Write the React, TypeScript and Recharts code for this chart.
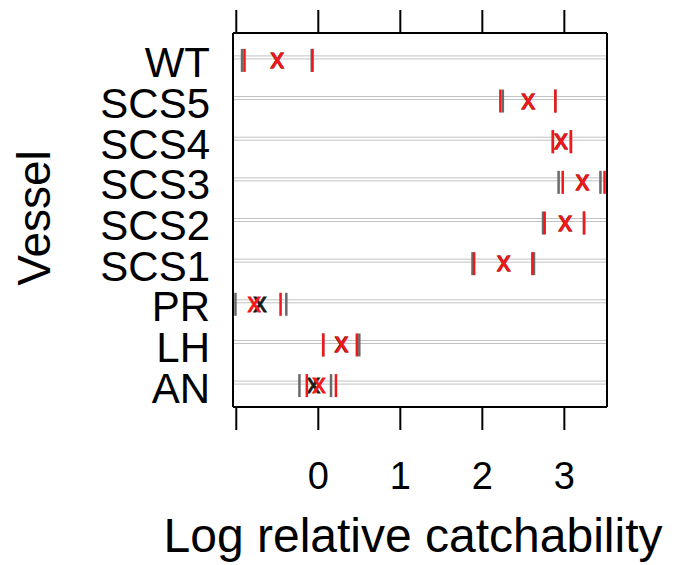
import React from 'react';
import { ScatterChart, Scatter, XAxis, YAxis, ReferenceLine } from 'recharts';

// Vessels, bottom row first
const vessels = ['AN', 'LH', 'PR', 'SCS1', 'SCS2', 'SCS3', 'SCS4', 'SCS5', 'WT'];

// Model 1 (black estimate, grey interval ends)
const estA = [-0.06, 0.28, -0.71, 2.26, 3.01, 3.22, 2.96, 2.56, -0.5];
const lowA = [-0.23, 0.06, -1.01, 1.88, 2.74, 2.93, 2.86, 2.25, -0.93];
const upA = [0.155, 0.5, -0.39, 2.63, 3.24, 3.44, 3.08, 2.89, -0.08];

// Model 2 (red estimate, red interval ends)
const estB = [0.01, 0.285, -0.78, 2.26, 3.01, 3.22, 2.96, 2.56, -0.5];
const lowB = [-0.14, 0.06, -1.15, 1.9, 2.76, 2.98, 2.86, 2.22, -0.9];
const upB = [0.215, 0.47, -0.46, 2.61, 3.24, 3.49, 3.08, 2.89, -0.07];

const xTicks = [-1, 0, 1, 2, 3];
const xTickLabels = ['', '0', '1', '2', '3'];
const xDomain = [-1.04, 3.52];
const yDomain = [0.4, 9.6];

const FONT = '"Liberation Sans", Arial, sans-serif';
const GREY = '#6a6a6a';
const RED = '#f01818';
const BLACK = '#1a1a1a';

const toPts = (vals: number[]) => vals.map((v, i) => ({ x: v, y: i + 1 }));

const barShape = (color: string) => (p: any) => (
  <rect x={p.cx - 1.25} y={p.cy - 8.5} width={2.5} height={23} fill={color} />
);
const crossShape = (color: string) => (p: any) => (
  <text
    x={p.cx}
    y={p.cy + 10.5}
    textAnchor="middle"
    fontSize={27}
    fontFamily={FONT}
    fill={color}
    stroke={color}
    strokeWidth={0.8}
  >
    x
  </text>
);

const rowLine = (p: any) => (
  <g>
    <line x1={p.x1} x2={p.x2} y1={p.y1 - 1.5} y2={p.y2 - 1.5} stroke="#c2c2c2" strokeWidth={1} />
    <line x1={p.x1} x2={p.x2} y1={p.y1 + 1.5} y2={p.y2 + 1.5} stroke="#c2c2c2" strokeWidth={1} />
  </g>
);

const YTick = (p: any) => (
  <text x={p.x} y={p.y + 20} textAnchor="end" fontSize={42} fontFamily={FONT} fill="#000">
    {vessels[Math.round(p.payload.value) - 1]}
  </text>
);

const XTick = (p: any) => {
  const idx = xTicks.indexOf(p.payload.value);
  return (
    <text x={p.x} y={p.y + 59} textAnchor="middle" fontSize={38} fontFamily={FONT} fill="#000">
      {idx >= 0 ? xTickLabels[idx] : ''}
    </text>
  );
};

export default function App() {
  return (
    <ScatterChart width={669} height={557} margin={{ top: 2, right: 69, bottom: 98, left: 0 }}>
      <XAxis
        type="number"
        dataKey="x"
        domain={xDomain}
        ticks={xTicks}
        allowDataOverflow
        height={60}
        tickSize={23}
        tickMargin={0}
        tick={XTick}
        axisLine={{ stroke: '#000', strokeWidth: 2 }}
        tickLine={{ stroke: '#000', strokeWidth: 2 }}
        label={{
          content: (lp: any) => {
            const vb = lp.viewBox || { x: 225, y: 399, width: 374 };
            return (
              <text x={vb.x + vb.width / 2 - 7} y={vb.y + 145} textAnchor="middle" fontSize={48} fontFamily={FONT} fill="#000">
                Log relative catchability
              </text>
            );
          },
        }}
      />
      <XAxis
        xAxisId="top"
        orientation="top"
        type="number"
        dataKey="x"
        domain={xDomain}
        ticks={xTicks}
        allowDataOverflow
        height={23}
        tickSize={23}
        tick={() => <g />}
        axisLine={{ stroke: '#000', strokeWidth: 2 }}
        tickLine={{ stroke: '#000', strokeWidth: 2 }}
      />
      <YAxis
        type="number"
        dataKey="y"
        domain={yDomain}
        ticks={vessels.map((_, i) => i + 1)}
        allowDataOverflow
        width={225}
        tickSize={0}
        tickMargin={23}
        tickLine={false}
        tick={YTick}
        axisLine={{ stroke: '#000', strokeWidth: 2 }}
        label={{
          content: (lp: any) => {
            const vb = lp.viewBox || { x: 0, y: 25, width: 225, height: 374 };
            const cx = vb.x + 42;
            const cy = vb.y + vb.height / 2 - 2;
            return (
              <text x={cx} y={cy} transform={`rotate(-90, ${cx}, ${cy})`} textAnchor="middle" fontSize={46} fontFamily={FONT} fill="#000">
                Vessel
              </text>
            );
          },
        }}
      />
      <YAxis
        yAxisId="right"
        orientation="right"
        type="number"
        dataKey="y"
        domain={yDomain}
        allowDataOverflow
        width={1}
        tick={false}
        tickLine={false}
        axisLine={{ stroke: '#000', strokeWidth: 2 }}
      />
      {vessels.map((v, i) => (
        <ReferenceLine key={v} y={i + 1} shape={rowLine} />
      ))}
      <Scatter data={toPts(lowA)} shape={barShape(GREY)} isAnimationActive={false} />
      <Scatter data={toPts(upA)} shape={barShape(GREY)} isAnimationActive={false} />
      <Scatter data={toPts(estA)} shape={crossShape(BLACK)} isAnimationActive={false} />
      <Scatter data={toPts(lowB)} shape={barShape(RED)} isAnimationActive={false} />
      <Scatter data={toPts(upB)} shape={barShape(RED)} isAnimationActive={false} />
      <Scatter data={toPts(estB)} shape={crossShape(RED)} isAnimationActive={false} />
    </ScatterChart>
  );
}
